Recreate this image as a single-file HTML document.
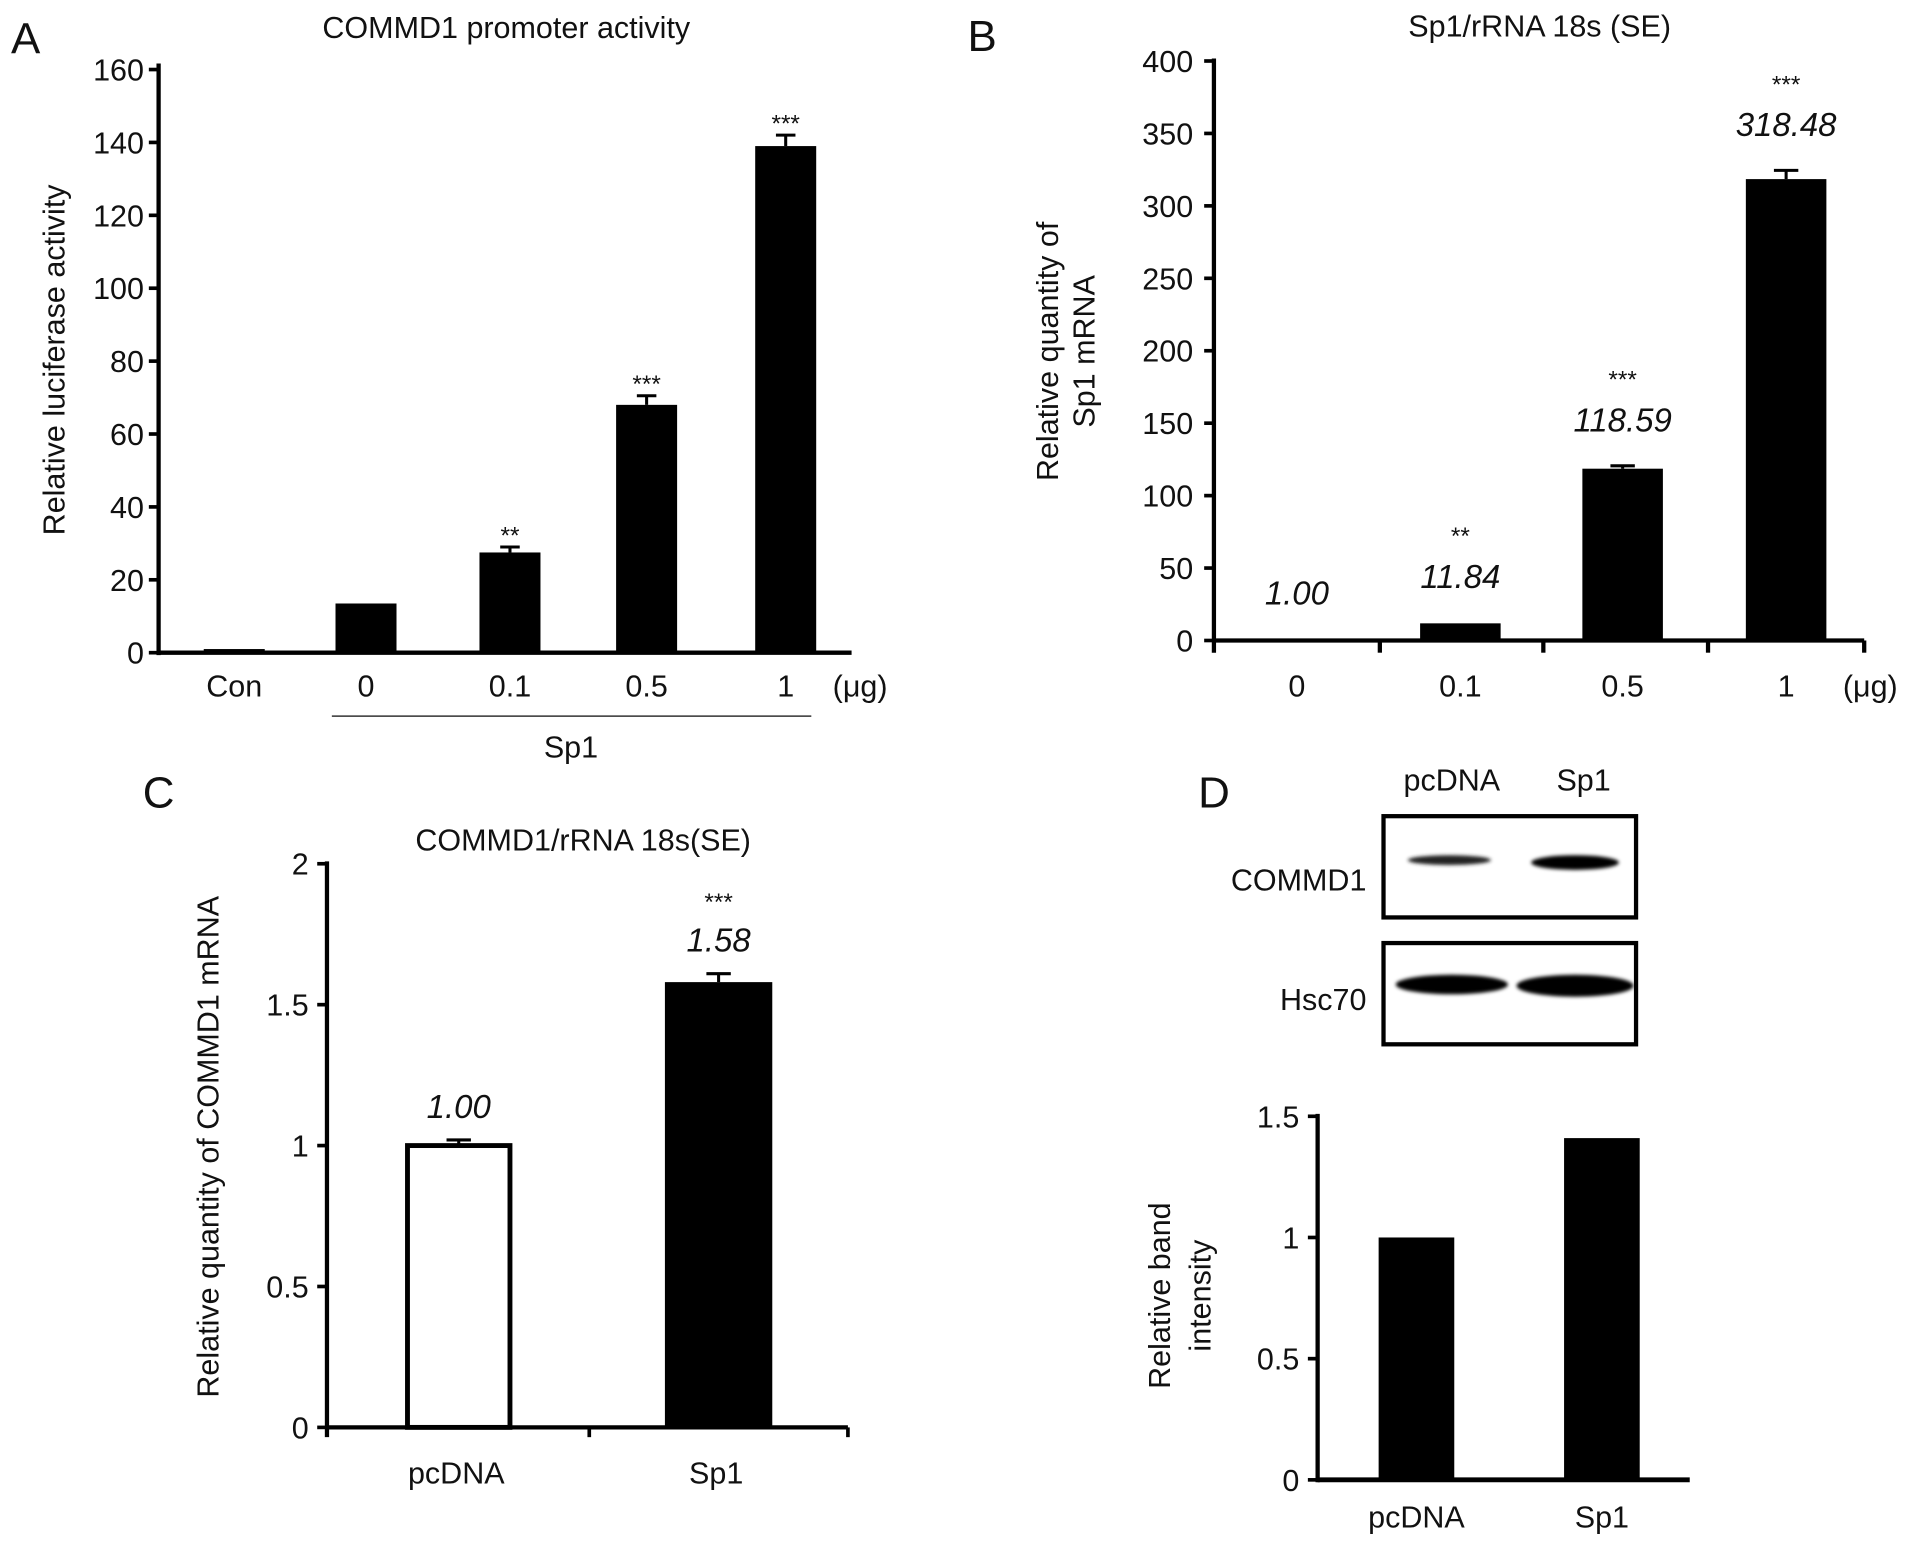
<!DOCTYPE html>
<html><head><meta charset="utf-8"><style>
html,body{margin:0;padding:0;background:#fff;}
svg{display:block;}
text{font-family:"Liberation Sans",Arial,sans-serif;fill:#111;}
</style></head><body>
<svg id="fig" width="1913" height="1545" viewBox="0 0 1568 1266.4" preserveAspectRatio="none" xmlns="http://www.w3.org/2000/svg">
<defs><filter id="blur" x="-20%" y="-50%" width="140%" height="200%"><feGaussianBlur stdDeviation="1.6"/></filter></defs>
</svg>
<script>
// Panel A data
const aCats = ["Con","0","0.1","0.5","1"];
const aVals = [1, 13.5, 27.5, 68, 139];
const aErr = [0.3, 0.5, 1.5, 2.5, 3];
const aStars = ["", "", "**", "***", "***"];
const aTicks = [0,20,40,60,80,100,120,140,160];
// Panel B data
const bCats = ["0","0.1","0.5","1"];
const bVals = [1.00, 11.84, 118.59, 318.48];
const bErr = [0.3, 0.8, 2, 6];
const bLabels = ["1.00","11.84","118.59","318.48"];
const bStars = ["", "**", "***", "***"];
const bTicks = [0,50,100,150,200,250,300,350,400];
// Panel C data
const cCats = ["pcDNA","Sp1"];
const cVals = [1.00, 1.58];
const cErr = [0.02, 0.03];
const cLabels = ["1.00","1.58"];
const cStars = ["", "***"];
const cTicks = [0,0.5,1,1.5,2];
// Panel D data
const dCats = ["pcDNA","Sp1"];
const dVals = [1.0, 1.41];
const dTicks = [0,0.5,1,1.5];

const FS = 25;
const svg = document.getElementById('fig');
const NS = "http://www.w3.org/2000/svg";
function el(tag, attrs, parent){
  const e = document.createElementNS(NS, tag);
  for (const k in attrs) e.setAttribute(k, attrs[k]);
  (parent||svg).appendChild(e);
  return e;
}
function txt(s, x, y, size, anchor, parent, extra){
  const t = el('text', Object.assign({x:x, y:y, 'font-size':size, 'text-anchor':anchor||'middle'}, extra||{}), parent);
  t.textContent = s;
  return t;
}
function group(name){
  const g = el('g', {});
  
  
  return g;
}

// ---------- Panel A ----------
(function(){
  const g = group('panel-a');
  const x0 = 130, yb = 535, yt = 57, vmax = 160;
  const y = v => yb - v/vmax*(yb-yt);
  const cx = [192, 300, 418, 530, 644];
  const bw = 50;
  txt('A', 9, 44, 36, 'start', g);
  txt('COMMD1 promoter activity', 415, 31, FS, 'middle', g);
  aTicks.forEach(v=>{
    el('line',{x1:x0-8,x2:x0,y1:y(v),y2:y(v),stroke:'#000','stroke-width':3},g);
    const tl = txt(String(v), x0-12, y(v)+9, FS, 'end', g);
    
  });
  txt('Relative luciferase activity', 0, 0, FS, 'middle', g, {transform:'translate(53,295) rotate(-90)'});
  aVals.forEach((v,i)=>{
    const r = el('rect',{x:cx[i]-bw/2,y:y(v),width:bw,height:yb-y(v),fill:'#000'},g);
    
    
    if (aErr[i]>0.5){
      el('line',{x1:cx[i],x2:cx[i],y1:y(v),y2:y(v+aErr[i]),stroke:'#000','stroke-width':2.5},g);
      el('line',{x1:cx[i]-8,x2:cx[i]+8,y1:y(v+aErr[i]),y2:y(v+aErr[i]),stroke:'#000','stroke-width':2.5},g);
    }
    if (aStars[i]) txt(aStars[i], cx[i], y(v+aErr[i])-3, 20, 'middle', g);
    txt(aCats[i], cx[i], 571, FS, 'middle', g);
  });
  el('line',{x1:x0,x2:x0,y1:52,y2:yb+2,stroke:'#000','stroke-width':3.5},g);
  el('line',{x1:x0,x2:698,y1:yb,y2:yb,stroke:'#000','stroke-width':3.5},g);
  txt('(μg)', 705, 571, FS, 'middle', g);
  el('line',{x1:272,x2:665,y1:587,y2:587,stroke:'#333','stroke-width':1.2},g);
  txt('Sp1', 468, 621, FS, 'middle', g);
})();

// ---------- Panel B ----------
(function(){
  const g = group('panel-b');
  const x0 = 995, yb = 525, yt = 50, vmax = 400;
  const y = v => yb - v/vmax*(yb-yt);
  const cx = [1063, 1197, 1330, 1464];
  const bw = 66;
  txt('B', 793, 42, 36, 'start', g);
  txt('Sp1/rRNA 18s (SE)', 1262, 30, FS, 'middle', g);
  bTicks.forEach(v=>{
    el('line',{x1:x0-8,x2:x0,y1:y(v),y2:y(v),stroke:'#000','stroke-width':3},g);
    txt(String(v), x0-17, y(v)+9, FS, 'end', g);
  });
  txt('Relative quantity of', 0, 0, FS, 'middle', g, {transform:'translate(867,288) rotate(-90)'});
  txt('Sp1 mRNA', 0, 0, FS, 'middle', g, {transform:'translate(897,288) rotate(-90)'});
  bVals.forEach((v,i)=>{
    const r = el('rect',{x:cx[i]-bw/2,y:y(v),width:bw,height:yb-y(v),fill:'#000'},g);
    
    
    if (bErr[i]>1){
      el('line',{x1:cx[i],x2:cx[i],y1:y(v),y2:y(v+bErr[i]),stroke:'#000','stroke-width':2.5},g);
      el('line',{x1:cx[i]-10,x2:cx[i]+10,y1:y(v+bErr[i]),y2:y(v+bErr[i]),stroke:'#000','stroke-width':2.5},g);
    }
    txt(bLabels[i], cx[i], y(v+bErr[i])-28, 27, 'middle', g, {'font-style':'italic'});
    if (bStars[i]) txt(bStars[i], cx[i], y(v+bErr[i])-64, 20, 'middle', g);
    txt(bCats[i], cx[i], 571, FS, 'middle', g);
  });
  el('line',{x1:x0,x2:x0,y1:48,y2:yb+10,stroke:'#000','stroke-width':3.5},g);
  el('line',{x1:x0,x2:1528,y1:yb,y2:yb,stroke:'#000','stroke-width':3.5},g);
  [1131,1265,1400,1528].forEach(xx=>el('line',{x1:xx,x2:xx,y1:yb,y2:yb+10,stroke:'#000','stroke-width':3.5},g));
  txt('(μg)', 1533, 571, FS, 'middle', g);
})();

// ---------- Panel C ----------
(function(){
  const g = group('panel-c');
  const x0 = 268, yb = 1170, yt = 708, vmax = 2;
  const y = v => yb - v/vmax*(yb-yt);
  const cx = [376, 589];
  const bw = [84, 88];
  txt('C', 117, 662, 36, 'start', g);
  txt('COMMD1/rRNA 18s(SE)', 478, 697, FS, 'middle', g);
  cTicks.forEach(v=>{
    el('line',{x1:x0-8,x2:x0,y1:y(v),y2:y(v),stroke:'#000','stroke-width':3},g);
    txt(String(v), x0-15, y(v)+9, FS, 'end', g);
  });
  txt('Relative quantity of COMMD1 mRNA', 0, 0, FS, 'middle', g, {transform:'translate(179,940) rotate(-90)'});
  cVals.forEach((v,i)=>{
    const r = el('rect',{x:cx[i]-bw[i]/2,y:y(v),width:bw[i],height:yb-y(v),fill:i===0?'#fff':'#000',stroke:'#000','stroke-width':i===0?4:0},g);
    
    
    el('line',{x1:cx[i],x2:cx[i],y1:y(v),y2:y(v+cErr[i]),stroke:'#000','stroke-width':2.5},g);
    el('line',{x1:cx[i]-10,x2:cx[i]+10,y1:y(v+cErr[i]),y2:y(v+cErr[i]),stroke:'#000','stroke-width':2.5},g);
    txt(cLabels[i], cx[i], y(v+cErr[i])-18, 27, 'middle', g, {'font-style':'italic'});
    if (cStars[i]) txt(cStars[i], cx[i], y(v+cErr[i])-52, 20, 'middle', g);
    txt(cCats[i], cx[i]-2, 1216, FS, 'middle', g);
  });
  el('line',{x1:x0,x2:x0,y1:706,y2:yb+8,stroke:'#000','stroke-width':3.5},g);
  el('line',{x1:x0,x2:695,y1:yb,y2:yb,stroke:'#000','stroke-width':3.5},g);
  [483,695].forEach(xx=>el('line',{x1:xx,x2:xx,y1:yb,y2:yb+8,stroke:'#000','stroke-width':3},g));
})();

// ---------- Panel D ----------
(function(){
  const g = group('panel-d');
  txt('D', 982, 662, 36, 'start', g);
  txt('pcDNA', 1190, 648, FS, 'middle', g);
  txt('Sp1', 1298, 648, FS, 'middle', g);
  const b1 = el('rect',{x:1134,y:669,width:207,height:83,fill:'#fff',stroke:'#000','stroke-width':3.5},g);
  
  
  const b2 = el('rect',{x:1134,y:773,width:207,height:83,fill:'#fff',stroke:'#000','stroke-width':3.5},g);
  
  
  txt('COMMD1', 1120, 730, FS, 'end', g);
  txt('Hsc70', 1120, 828, FS, 'end', g);
  el('ellipse',{cx:1188,cy:705,rx:34,ry:4,fill:'#222',filter:'url(#blur)'},g);
  el('ellipse',{cx:1291,cy:707,rx:36,ry:6,fill:'#000',filter:'url(#blur)'},g);
  el('ellipse',{cx:1190,cy:807,rx:46,ry:8,fill:'#000',filter:'url(#blur)'},g);
  el('ellipse',{cx:1291,cy:808,rx:48,ry:9,fill:'#000',filter:'url(#blur)'},g);

  const x0 = 1080, yb = 1213, yt = 915, vmax = 1.5;
  const y = v => yb - v/vmax*(yb-yt);
  const cx = [1161, 1313];
  const bw = 62;
  dTicks.forEach(v=>{
    el('line',{x1:x0-8,x2:x0,y1:y(v),y2:y(v),stroke:'#000','stroke-width':3},g);
    txt(String(v), x0-15, y(v)+9, FS, 'end', g);
  });
  txt('Relative band', 0, 0, FS, 'middle', g, {transform:'translate(959,1062) rotate(-90)'});
  txt('intensity', 0, 0, FS, 'middle', g, {transform:'translate(992,1062) rotate(-90)'});
  dVals.forEach((v,i)=>{
    const r = el('rect',{x:cx[i]-bw/2,y:y(v),width:bw,height:yb-y(v),fill:'#000'},g);
    
    
    txt(dCats[i], cx[i], 1252, FS, 'middle', g);
  });
  el('line',{x1:x0,x2:x0,y1:913,y2:yb+2,stroke:'#000','stroke-width':3.5},g);
  el('line',{x1:x0,x2:1385,y1:yb,y2:yb,stroke:'#000','stroke-width':4},g);
})();
</script>
</body></html>
